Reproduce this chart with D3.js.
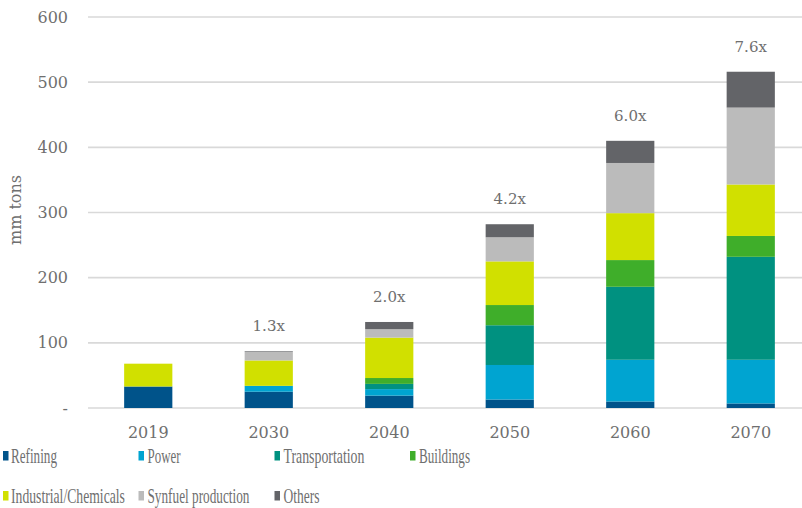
<!DOCTYPE html>
<html>
<head>
<meta charset="utf-8">
<script src="https://cdn.jsdelivr.net/npm/d3@7/dist/d3.min.js"></script>
<style>
  html, body { margin: 0; padding: 0; background: #fff; }
  svg { display: block; font-family: "DejaVu Serif", Georgia, serif; }
</style>
</head>
<body>
<svg id="chart" width="802" height="508"></svg>
<script>
// Hydrogen demand by end use, million tons
const years = ["2019", "2030", "2040", "2050", "2060", "2070"];
const sectors = ["Refining", "Power", "Transportation", "Buildings",
                 "Industrial/Chemicals", "Synfuel production", "Others"];
const refining       = [33, 25, 19, 13, 10, 7];
const power          = [0, 9, 10, 53, 64, 67];
const transportation = [0, 0, 8, 61, 112, 158];
const buildings      = [0, 0, 9, 31, 41, 32];
const industrial     = [35, 39, 62, 67, 72, 79];
const synfuel        = [0, 13, 13, 37, 77, 118];
const others         = [0, 1, 11, 20, 34, 55];
const multiples      = ["", "1.3x", "2.0x", "4.2x", "6.0x", "7.6x"];
const yTicks         = [0, 100, 200, 300, 400, 500, 600];

const colors = ["#00538a", "#00a4d1", "#009180", "#3fae2a",
                "#d1e000", "#bbbbbb", "#636468"];

const seriesValues = [refining, power, transportation, buildings, industrial, synfuel, others];
const rows = years.map((yr, i) => {
  const r = { year: yr };
  sectors.forEach((s, k) => { r[s] = seriesValues[k][i]; });
  return r;
});

const svg = d3.select("#chart");
const textColor = "#6f6f6f";

const x = d3.scaleBand().domain(years).range([88, 811]).paddingInner(0.6).paddingOuter(0.3);
const y = d3.scaleLinear().domain([0, 600]).range([408, 17]);

// gridlines
svg.append("g").selectAll("line").data(yTicks).join("line")
  .attr("x1", 88).attr("x2", 802)
  .attr("y1", d => y(d)).attr("y2", d => y(d))
  .attr("stroke", "#d9d9d9").attr("stroke-width", 1.6);

// y axis labels
const yAxis = d3.axisLeft(y).tickValues(yTicks).tickSize(0).tickPadding(0)
  .tickFormat(d => d === 0 ? "-" : d3.format("d")(d));
svg.append("g").attr("transform", "translate(68,0)").call(yAxis)
  .call(g => g.select(".domain").remove())
  .call(g => g.selectAll("text").attr("fill", textColor)
    .attr("font-size", 16).attr("font-family", "DejaVu Serif"));

// y axis title
svg.append("text")
  .attr("transform", "translate(21,210) rotate(-90)")
  .attr("text-anchor", "middle")
  .attr("font-size", 16).attr("fill", textColor)
  .text("mm tons");

// x axis labels
const xAxis = d3.axisBottom(x).tickSize(0).tickPadding(0);
svg.append("g").attr("transform", "translate(0,427)").call(xAxis)
  .call(g => g.select(".domain").remove())
  .call(g => g.selectAll("text").attr("fill", textColor)
    .attr("font-size", 16).attr("font-family", "DejaVu Serif"));

// stacked bars
const stacked = d3.stack().keys(sectors)(rows);
svg.append("g").selectAll("g").data(stacked).join("g")
  .attr("fill", (d, i) => colors[i])
  .selectAll("rect").data(d => d).join("rect")
  .attr("x", d => x(d.data.year))
  .attr("width", x.bandwidth())
  .attr("y", d => y(d[1]))
  .attr("height", d => y(d[0]) - y(d[1]));

// growth multiples above each bar
const totals = rows.map(r => d3.sum(sectors, s => r[s]));
svg.append("g").selectAll("text").data(years).join("text")
  .attr("x", d => x(d) + x.bandwidth() / 2)
  .attr("y", (d, i) => y(totals[i]) - 20)
  .attr("text-anchor", "middle")
  .attr("font-size", 15).attr("fill", textColor)
  .text((d, i) => multiples[i]);

// legend: narrow serif labels, each squeezed horizontally to its slot width
const legendPos = [
  { sx: 3, tx: 11, ty: 463, w: 46 },
  { sx: 138.5, tx: 147.5, ty: 463, w: 33 },
  { sx: 274.5, tx: 283.5, ty: 463, w: 81 },
  { sx: 410, tx: 419, ty: 463, w: 51 },
  { sx: 3, tx: 11, ty: 503, w: 114 },
  { sx: 138.5, tx: 147.5, ty: 503, w: 102 },
  { sx: 274.5, tx: 283.5, ty: 503, w: 36 }
];
const legend = svg.append("g").selectAll("g").data(sectors).join("g");
legend.append("rect")
  .attr("x", (d, i) => legendPos[i].sx)
  .attr("y", (d, i) => legendPos[i].ty - 12)
  .attr("width", 5.5).attr("height", 9.5)
  .attr("fill", (d, i) => colors[i]);
legend.append("text")
  .attr("font-family", "Liberation Serif")
  .attr("font-size", 20).attr("fill", textColor)
  .text(d => d)
  .each(function (d, i) {
    const p = legendPos[i];
    const natural = this.getComputedTextLength();
    const s = p.w / natural;
    d3.select(this).attr("transform", `translate(${p.tx},${p.ty}) scale(${s},1)`);
  });
</script>
</body>
</html>
